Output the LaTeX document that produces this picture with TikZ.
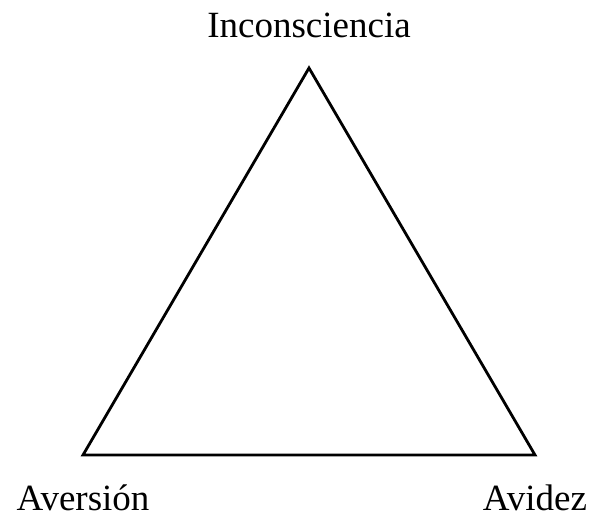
\documentclass[tikz,border=0pt]{standalone}
\usepackage{fontspec}
\setmainfont{Liberation Serif}
\usepackage{tikz}

\begin{document}
\begin{tikzpicture}[x=0.5pt, y=-0.5pt, auto]
				\useasboundingbox (0,0) rectangle (592,516);
				\tikzset{label text/.style = {font=\fontsize{18.5}{22}\selectfont, inner sep=0pt, anchor=base}}
				\coordinate (top) at (309,68);
				\coordinate (left) at (83,455);
				\coordinate (right) at (535,455);
				\node[label text] (inconsciencia) at (309,37){Inconsciencia};
				\node[label text] (aversion) at (83,510){Aversión};
				\node[label text] (avidez) at (535,510){Avidez};
				\draw[line width=1.4pt, line join=miter] (top) -- (left) -- (right) -- cycle;
			\end{tikzpicture}
\end{document}
